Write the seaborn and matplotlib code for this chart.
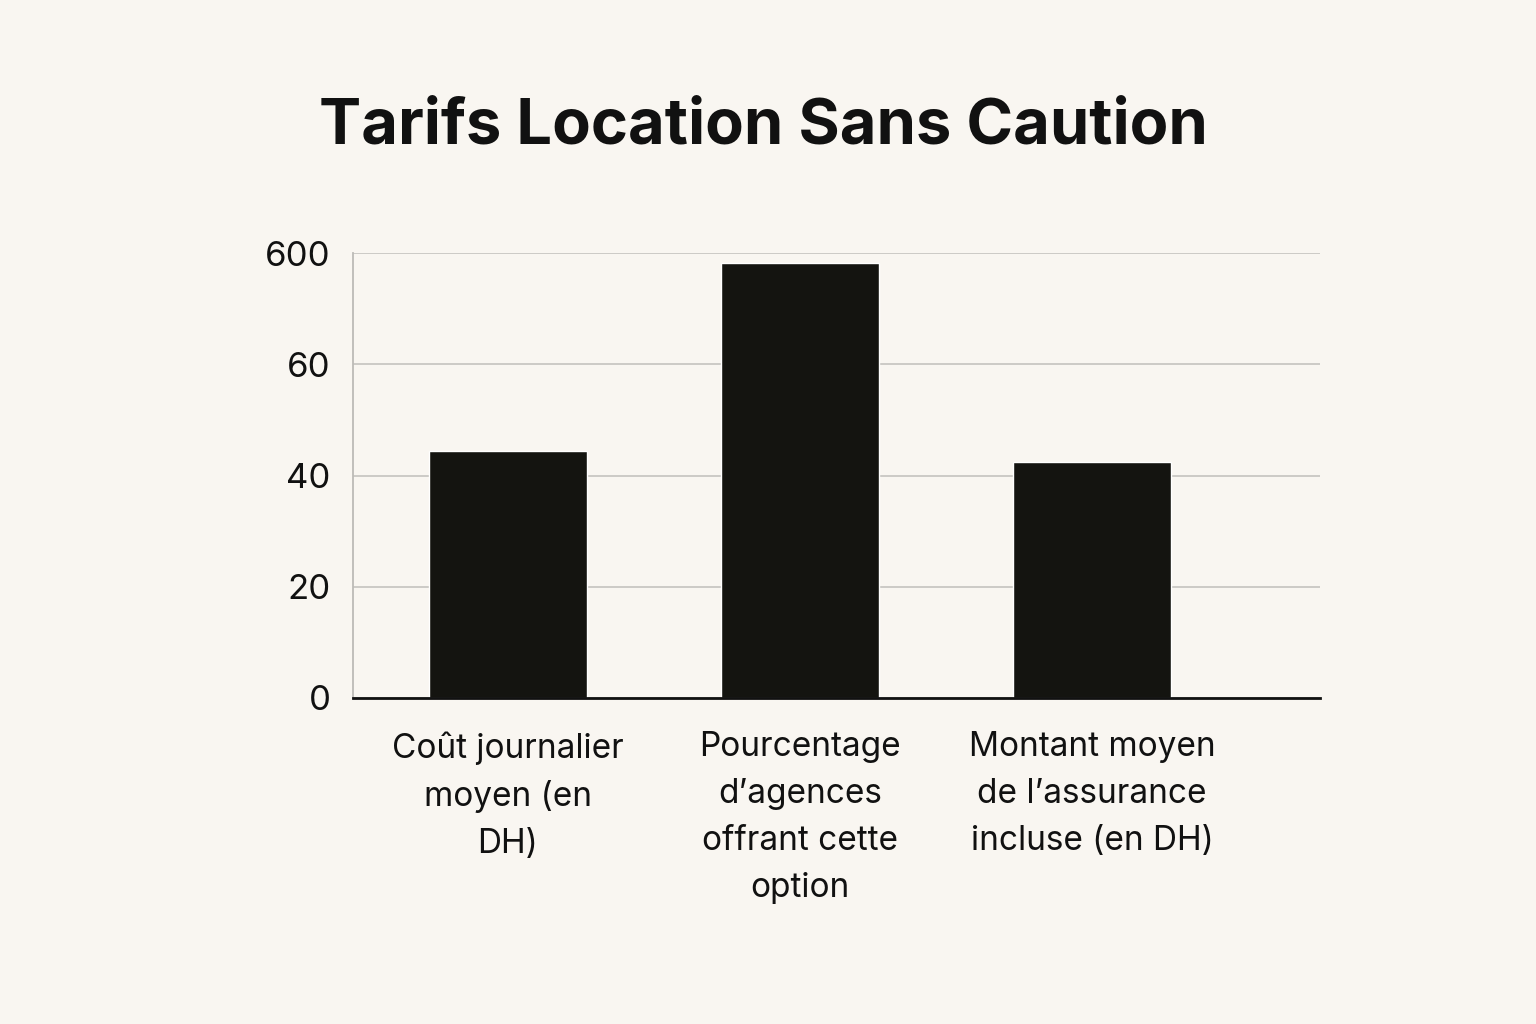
import numpy
import pandas
import matplotlib
matplotlib.use('Agg')
import matplotlib.pyplot as plt
import seaborn

# data (the y axis is piecewise: 0-60 linear, then 60-600 squeezed)
categories = ['Coût journalier\nmoyen (en\nDH)',
              'Pourcentage\nd\u2019agences\noffrant cette\noption',
              'Montant moyen\nde l\u2019assurance\nincluse (en DH)']
values = [44.4, 550, 42.5]
ytick_values = [0, 20, 40, 60, 600]

BG = '#f9f6f1'
BAR = '#141410'


def forward(y):
    y = numpy.asarray(y, dtype=float)
    return numpy.where(y <= 60, y, 60 + (y - 60) / 540.0 * 20)


def inverse(p):
    p = numpy.asarray(p, dtype=float)
    return numpy.where(p <= 60, p, 60 + (p - 60) * 27.0)


seaborn.set_theme(style='white')
plt.rcParams['font.family'] = ['Inter', 'DejaVu Sans']

df = pandas.DataFrame({'category': categories, 'value': values})

fig = plt.figure(figsize=(15.36, 10.24), dpi=100, facecolor=BG)
ax = fig.add_axes([353 / 1536, 1 - 698 / 1024, (1320 - 353) / 1536, (698 - 253) / 1024])
ax.set_facecolor(BG)
ax.set_yscale('function', functions=(forward, inverse))

seaborn.barplot(data=df, x='category', y='value', color=BAR, saturation=1,
                width=0.54, ax=ax, zorder=3)

ax.set_ylim(0, 600)
ax.set_xlim(-0.53, 2.78)
ax.set_yticks(ytick_values)
ax.set_yticklabels([str(v) for v in ytick_values])
ax.yaxis.set_minor_locator(matplotlib.ticker.NullLocator())
ax.grid(axis='y', color='#c9c7c3', linewidth=1.3, zorder=0)
ax.grid(axis='x', visible=False)

for side in ['top', 'right']:
    ax.spines[side].set_visible(False)
ax.spines['left'].set_color('#bdbbb7')
ax.spines['left'].set_linewidth(1.3)
ax.spines['bottom'].set_color('#111111')
ax.spines['bottom'].set_linewidth(2)
ax.spines['bottom'].set_zorder(4)

ax.tick_params(axis='y', length=0, pad=16, labelsize=25, labelcolor='#111111')
ax.tick_params(axis='x', length=0, pad=24, labelsize=24, labelcolor='#111111')
for lbl in ax.get_xticklabels():
    lbl.set_linespacing(1.6)
    lbl.set_multialignment('center')

ax.set_xlabel('')
ax.set_ylabel('')

fig.text(0.497, 1 - 127 / 1024, 'Tarifs Location Sans Caution', ha='center', va='center',
         fontsize=45.5, fontweight='bold', color='#111111')

fig.savefig('out.png', dpi=100, facecolor=BG)
